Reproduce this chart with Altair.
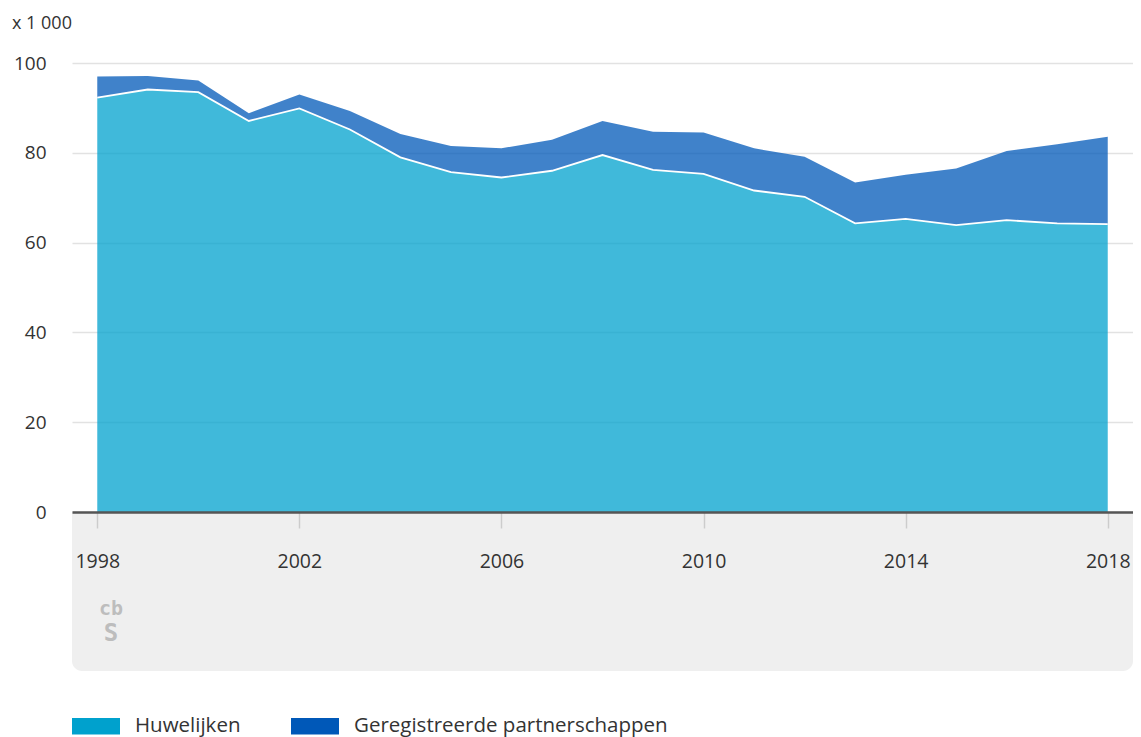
import altair as alt
import pandas as pd

years = list(range(1998, 2019))
huwelijken = [92.3, 94.1, 93.5, 87.1, 89.9, 85.2, 79.0, 75.7, 74.5, 76.0, 79.5,
              76.2, 75.3, 71.6, 70.2, 64.3, 65.3, 63.9, 65.0, 64.3, 64.1]
partnerschappen = [4.7, 3.0, 2.6, 1.7, 3.1, 4.1, 5.2, 5.8, 6.5, 6.9, 7.6,
                   8.5, 9.2, 9.4, 8.9, 9.1, 9.8, 12.6, 15.4, 17.6, 19.5]
series = ["Huwelijken", "Geregistreerde partnerschappen"]
colors = ["#00a1cd", "#0058b8"]
x_ticks = [1998, 2002, 2006, 2010, 2014, 2018]
y_ticks = [0, 20, 40, 60, 80, 100]

rows = []
for i, y in enumerate(years):
    rows.append({"jaar": y, "reeks": series[0], "ord": 0, "waarde": huwelijken[i]})
    rows.append({"jaar": y, "reeks": series[1], "ord": 1, "waarde": partnerschappen[i]})
df = pd.DataFrame(rows)
df_line = pd.DataFrame({"jaar": years, "waarde": huwelijken})

W, H = 1061, 449
FONT = "Open Sans"

xscale = alt.Scale(domain=[1997.5, 2018.5], nice=False, zero=False)
yscale = alt.Scale(domain=[0, 100], nice=False)

panel = alt.Chart(pd.DataFrame({"a": [0]})).mark_rect(
    color="#efefef", cornerRadiusBottomLeft=10, cornerRadiusBottomRight=10
).encode(
    x=alt.value(0), x2=alt.value(W), y=alt.value(H), y2=alt.value(H + 159)
)

logo_top = alt.Chart(pd.DataFrame({"t": ["cb"]})).mark_text(
    font="DejaVu Sans Mono", fontSize=20, color="#bdbdbd", fontWeight="bold"
).encode(text="t:N", x=alt.value(39), y=alt.value(H + 97))
logo_bot = alt.Chart(pd.DataFrame({"t": ["S"]})).mark_text(
    font="DejaVu Sans Mono", fontSize=24, color="#bdbdbd", fontWeight="bold"
).encode(text="t:N", x=alt.value(39), y=alt.value(H + 122))

area = alt.Chart(df).mark_area(opacity=0.75, interpolate="linear").encode(
    x=alt.X("jaar:Q", scale=xscale,
            axis=alt.Axis(values=x_ticks, format="d", title=None, grid=False,
                          domainColor="#555", domainWidth=2.5,
                          tickColor="#cccccc", tickSize=16, tickWidth=1.5,
                          labelPadding=24, labelFontSize=19.5, labelColor="#333",
                          labelFont=FONT, zindex=1)),
    y=alt.Y("waarde:Q", stack="zero", scale=yscale,
            axis=alt.Axis(values=y_ticks, title=None, domain=False, ticks=False,
                          gridColor="#e2e2e2", gridWidth=1.5,
                          labelPadding=26, labelFontSize=19, labelColor="#333",
                          labelFont=FONT)),
    color=alt.Color("reeks:N", scale=alt.Scale(domain=series, range=colors),
                    legend=alt.Legend(title=None, orient="none", legendX=0, legendY=639,
                                      direction="horizontal",
                                      symbolType="M-1,-0.34L1,-0.34L1,0.34L-1,0.34Z",
                                      symbolSize=2304, symbolOpacity=1,
                                      symbolStrokeWidth=0, labelLimit=0,
                                      labelFontSize=20.5, labelFont=FONT,
                                      labelColor="#333", labelOffset=15,
                                      columnPadding=50, padding=0)),
    order=alt.Order("ord:Q"),
)

line = alt.Chart(df_line).mark_line(color="white", strokeWidth=1.8).encode(
    x=alt.X("jaar:Q", scale=xscale),
    y=alt.Y("waarde:Q", scale=yscale),
)

chart = alt.layer(panel, logo_top, logo_bot, area, line).properties(
    width=W, height=H,
    title=alt.TitleParams("x 1 000", anchor="start", frame="group", dx=-60, fontSize=18,
                          fontWeight="normal", color="#333", font=FONT, offset=21),
    padding={"left": 4, "top": 7, "right": 0, "bottom": 0},
).configure_view(stroke=None)

chart.save("out.html", embed_options={"renderer": "svg", "actions": False})
